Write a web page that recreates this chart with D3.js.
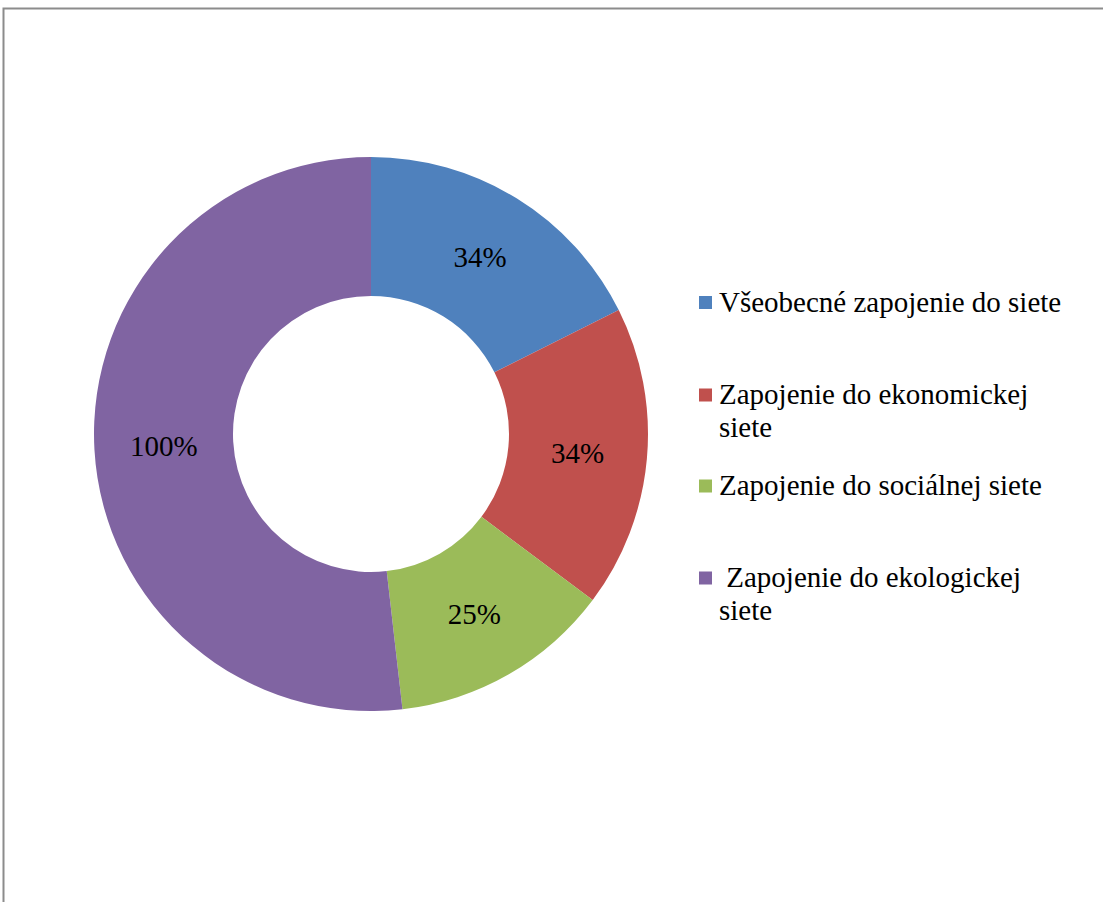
<!DOCTYPE html>
<html><head><meta charset="utf-8">
<script src="https://cdn.jsdelivr.net/npm/d3@7"></script>
<style>html,body{margin:0;padding:0;background:#fff;}</style>
</head><body>
<script>
const categories = ["Všeobecné zapojenie do siete", "Zapojenie do ekonomickej siete", "Zapojenie do sociálnej siete", " Zapojenie do ekologickej siete"];
const legendLines = [["Všeobecné zapojenie do siete"], ["Zapojenie do ekonomickej", "siete"], ["Zapojenie do sociálnej siete"], ["\u00a0Zapojenie do ekologickej", "siete"]];
const values = [34, 34, 25, 100];
const labels = ["34%", "34%", "25%", "100%"];
const colors = ["#4f81bd", "#c0504d", "#9bbb59", "#8064a2"];

const W = 1103, H = 902;
const svg = d3.select("body").append("svg").attr("width", W).attr("height", H);
svg.append("path").attr("d", `M${W},8.5 H3.5 V${H}`).attr("fill", "none").attr("stroke", "#8c8c8c").attr("stroke-width", 2);

const cx = 371, cy = 434, R = 277, r = 138;
const pie = d3.pie().sort(null).value(d => d);
const arc = d3.arc().innerRadius(r).outerRadius(R);
const labelArc = d3.arc().innerRadius((R + r) / 2).outerRadius((R + r) / 2);
const arcs = pie(values);
const g = svg.append("g").attr("transform", `translate(${cx},${cy})`);
g.selectAll("path").data(arcs).enter().append("path")
  .attr("d", arc).attr("fill", (d, i) => colors[i]);
arcs.forEach((d, i) => {
  const c = labelArc.centroid(d);
  svg.append("text")
    .attr("x", cx + c[0]).attr("y", cy + c[1] + 10)
    .attr("text-anchor", "middle")
    .style("font-family", "'Times New Roman'").style("font-size", "29px")
    .text(labels[i]);
});

const markerY = [302.5, 395, 486, 578];
legendLines.forEach((lines, i) => {
  svg.append("rect").attr("x", 699).attr("y", markerY[i] - 6.5).attr("width", 13).attr("height", 13).attr("fill", colors[i]);
  lines.forEach((ln, j) => {
    svg.append("text").attr("x", 719).attr("y", markerY[i] + 9 + j * 33)
      .style("font-family", "'Times New Roman'").style("font-size", "29px")
      .text(ln);
  });
});
</script>
</body></html>
